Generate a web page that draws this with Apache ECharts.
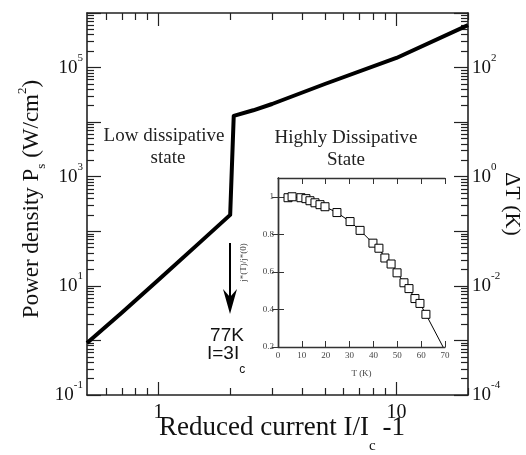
<!DOCTYPE html>
<html>
<head>
<meta charset="utf-8">
<script src="https://cdn.jsdelivr.net/npm/echarts@6/dist/echarts.min.js"></script>
<style>html,body{margin:0;padding:0;background:#fff;}#c{width:526px;height:455px;}</style>
</head>
<body>
<div id="c"></div>
<script>
// Main curve: reduced current vs power density
const mainX = [0.5, 0.7, 1, 1.5, 2.0, 2.07, 2.5, 3, 5, 10, 20];
const mainP = [0.9, 3.2, 12.9, 64, 200, 13000, 16500, 21500, 50000, 150000, 600000];
// Inset: j*(T)/j*(0) vs T
const insetT = [4.2, 5.9, 9.6, 11.7, 13.4, 15.5, 17.6, 19.7, 24.7, 30.2, 34.4, 39.8, 42.3, 44.8, 47.4, 49.9, 52.8, 54.9, 57.4, 59.5, 62.0];
const insetJ = [0.995, 1.0, 0.995, 0.99, 0.979, 0.968, 0.958, 0.947, 0.916, 0.868, 0.821, 0.753, 0.726, 0.674, 0.642, 0.595, 0.542, 0.511, 0.458, 0.432, 0.374];
const insetEnd = [69.2, 0.2];
// Ticks
const xMajorTicks = [1, 10];
const xMinorTicks = [0.6, 0.7, 0.8, 0.9, 2, 3, 4, 5, 6, 7, 8, 9, 20];
const xLabels = [1, 10];
const yLeftDecades = [-1, 0, 1, 2, 3, 4, 5, 6];
const yLeftLabels = [0.1, 10, 1e3, 1e5];
const yRightDecades = [-4, -3, -2, -1, 0, 1, 2, 3];
const yRightLabels = [1e-4, 1e-2, 1, 1e2];
const insetXTicks = [0, 10, 20, 30, 40, 50, 60, 70];
const insetYTicks = [0.2, 0.4, 0.6, 0.8, 1];

function majors(dec) { return dec.map(d => Math.pow(10, d)); }
function minors(dec) {
  const out = [];
  dec.slice(0, -1).forEach(d => { for (let k = 2; k <= 9; k++) out.push(k * Math.pow(10, d)); });
  return out;
}

const serif = 'Liberation Serif';
const axisColor = '#222';
const supRich = {
  b: { fontSize: 19, fontFamily: serif, color: '#111', lineHeight: 30 },
  s: { fontSize: 11, fontFamily: serif, color: '#111', lineHeight: 10, verticalAlign: 'top' }
};
function powFmt(v) {
  const e = Math.round(Math.log10(v));
  return '{b|10}{s|' + e + '}';
}

function logAxisX(pos, ticks, len, labels, show) {
  return {
    type: 'log', gridIndex: 0, position: pos, min: 0.5, max: 20, logBase: 10,
    axisLine: { show: show, lineStyle: { color: axisColor, width: 1.6 } },
    axisTick: { show: true, inside: true, length: len, customValues: ticks, lineStyle: { color: axisColor, width: 1.2 } },
    axisLabel: labels ? { show: true, customValues: labels, fontFamily: serif, fontSize: 20, color: '#111', margin: 8 } : { show: false },
    splitLine: { show: false }, minorTick: { show: false }
  };
}
function logAxisY(pos, min, max, ticks, len, labels, show) {
  return {
    type: 'log', gridIndex: 0, position: pos, min: min, max: max, logBase: 10,
    axisLine: { show: show, lineStyle: { color: axisColor, width: 1.6 } },
    axisTick: { show: true, inside: true, length: len, customValues: ticks, lineStyle: { color: axisColor, width: 1.2 } },
    axisLabel: labels ? { show: true, customValues: labels, formatter: powFmt, rich: supRich, margin: 4 } : { show: false },
    splitLine: { show: false }, minorTick: { show: false }
  };
}

const insetLabel = { fontFamily: serif, fontSize: 9, color: '#444' };
function insetX(pos, labels) {
  return {
    type: 'value', gridIndex: 1, position: pos, min: 0, max: 70, interval: 10,
    axisLine: { show: true, lineStyle: { color: '#333', width: 1.4 } },
    axisTick: { show: true, inside: true, length: 6, customValues: insetXTicks, lineStyle: { color: '#333' } },
    axisLabel: labels ? Object.assign({ show: true, customValues: insetXTicks, margin: 4 }, insetLabel) : { show: false },
    splitLine: { show: false },
    name: labels ? 'T (K)' : '', nameLocation: 'middle', nameGap: 22,
    nameTextStyle: insetLabel
  };
}
function insetY(pos, labels) {
  return {
    type: 'value', gridIndex: 1, position: pos, min: 0.2, max: 1.1,
    axisLine: { show: true, lineStyle: { color: '#333', width: 1.4 } },
    axisTick: { show: true, inside: true, length: 6, customValues: insetYTicks, lineStyle: { color: '#333' } },
    axisLabel: labels ? Object.assign({ show: true, customValues: insetYTicks, margin: 4, formatter: v => String(Math.round(v * 10) / 10) }, insetLabel) : { show: false },
    splitLine: { show: false },
    name: labels ? 'j*(T)/j*(0)' : '', nameLocation: 'middle', nameGap: 30, nameRotate: 90,
    nameTextStyle: insetLabel
  };
}

const insetData = insetT.map((t, i) => [t, insetJ[i]]);
insetData.push({ value: insetEnd, symbol: 'none' });

const option = {
  animation: false,
  backgroundColor: '#fff',
  grid: [
    { left: 87, top: 13, right: 58, bottom: 60 },
    { left: 278, top: 178, right: 81, bottom: 108, show: true, backgroundColor: '#fff', borderWidth: 0 }
  ],
  xAxis: [
    logAxisX('bottom', xMajorTicks, 13, xLabels, true),
    logAxisX('bottom', xMinorTicks, 7, null, false),
    logAxisX('top', xMajorTicks, 13, null, true),
    logAxisX('top', xMinorTicks, 7, null, false),
    insetX('bottom', true),
    insetX('top', false)
  ],
  yAxis: [
    logAxisY('left', 0.1, 1e6, majors(yLeftDecades), 14, yLeftLabels, true),
    logAxisY('left', 0.1, 1e6, minors(yLeftDecades), 7, null, false),
    logAxisY('right', 1e-4, 1e3, majors(yRightDecades), 14, yRightLabels, true),
    logAxisY('right', 1e-4, 1e3, minors(yRightDecades), 7, null, false),
    insetY('left', true),
    insetY('right', false)
  ],
  series: [
    {
      type: 'line', xAxisIndex: 0, yAxisIndex: 0,
      data: mainX.map((x, i) => [x, mainP[i]]),
      showSymbol: false, symbol: 'none',
      lineStyle: { color: '#000', width: 4, join: 'round' }
    },
    {
      type: 'line', xAxisIndex: 4, yAxisIndex: 4,
      data: insetData,
      symbol: 'rect', symbolSize: 8, showSymbol: true,
      lineStyle: { color: '#000', width: 1 },
      itemStyle: { color: '#fff', borderColor: '#000', borderWidth: 1 },
      z: 5
    }
  ],
  graphic: [
    { type: 'text', x: 32, y: 199, rotation: Math.PI / 2,
      style: { text: '{a|Power density P}{s|s}{a| (W/cm}{p|2}{a|)}', textAlign: 'center', textVerticalAlign: 'middle',
        rich: {
          a: { fontSize: 23, fontFamily: serif, fill: '#111', lineHeight: 32 },
          s: { fontSize: 13, fontFamily: serif, fill: '#111', lineHeight: 12, verticalAlign: 'bottom' },
          p: { fontSize: 13, fontFamily: serif, fill: '#111', lineHeight: 12, verticalAlign: 'top' }
        } } },
    { type: 'text', x: 512, y: 204, rotation: -Math.PI / 2,
      style: { text: 'ΔT (K)', textAlign: 'center', textVerticalAlign: 'middle', font: '22px "Liberation Serif"', fill: '#111' } },
    { type: 'text', x: 282, y: 428,
      style: { text: '{a|Reduced current I/I}{c|c}{a| -1}', textAlign: 'center', textVerticalAlign: 'middle',
        rich: {
          a: { fontSize: 27, fontFamily: serif, fill: '#111', lineHeight: 52 },
          c: { fontSize: 15, fontFamily: serif, fill: '#111', lineHeight: 12, verticalAlign: 'bottom' }
        } } },
    { type: 'text', x: 164, y: 136, style: { text: 'Low dissipative', textAlign: 'center', textVerticalAlign: 'middle', font: '19px "Liberation Serif"', fill: '#222' } },
    { type: 'text', x: 168, y: 158, style: { text: 'state', textAlign: 'center', textVerticalAlign: 'middle', font: '19px "Liberation Serif"', fill: '#222' } },
    { type: 'text', x: 346, y: 138, style: { text: 'Highly Dissipative', textAlign: 'center', textVerticalAlign: 'middle', font: '19px "Liberation Serif"', fill: '#222' } },
    { type: 'text', x: 346, y: 160, style: { text: 'State', textAlign: 'center', textVerticalAlign: 'middle', font: '19px "Liberation Serif"', fill: '#222' } },
    { type: 'text', x: 227, y: 336, style: { text: '77K', textAlign: 'center', textVerticalAlign: 'middle', font: '19px "Liberation Sans"', fill: '#111' } },
    { type: 'text', x: 207, y: 354,
      style: { text: '{a|I=3I}{c|c}', textAlign: 'left', textVerticalAlign: 'middle',
        rich: {
          a: { fontSize: 19, fontFamily: 'Liberation Sans', fill: '#111', lineHeight: 44 },
          c: { fontSize: 12, fontFamily: 'Liberation Sans', fill: '#111', lineHeight: 12, verticalAlign: 'bottom' }
        } } },
    { type: 'line', shape: { x1: 230, y1: 243, x2: 230, y2: 300 }, style: { stroke: '#000', lineWidth: 2 } },
    { type: 'polygon', shape: { points: [[223, 289], [230, 314], [237, 289], [230, 297]] }, style: { fill: '#000' } }
  ]
};

const chart = echarts.init(document.getElementById('c'), null, { renderer: 'canvas' });
chart.setOption(option);
</script>
</body>
</html>
